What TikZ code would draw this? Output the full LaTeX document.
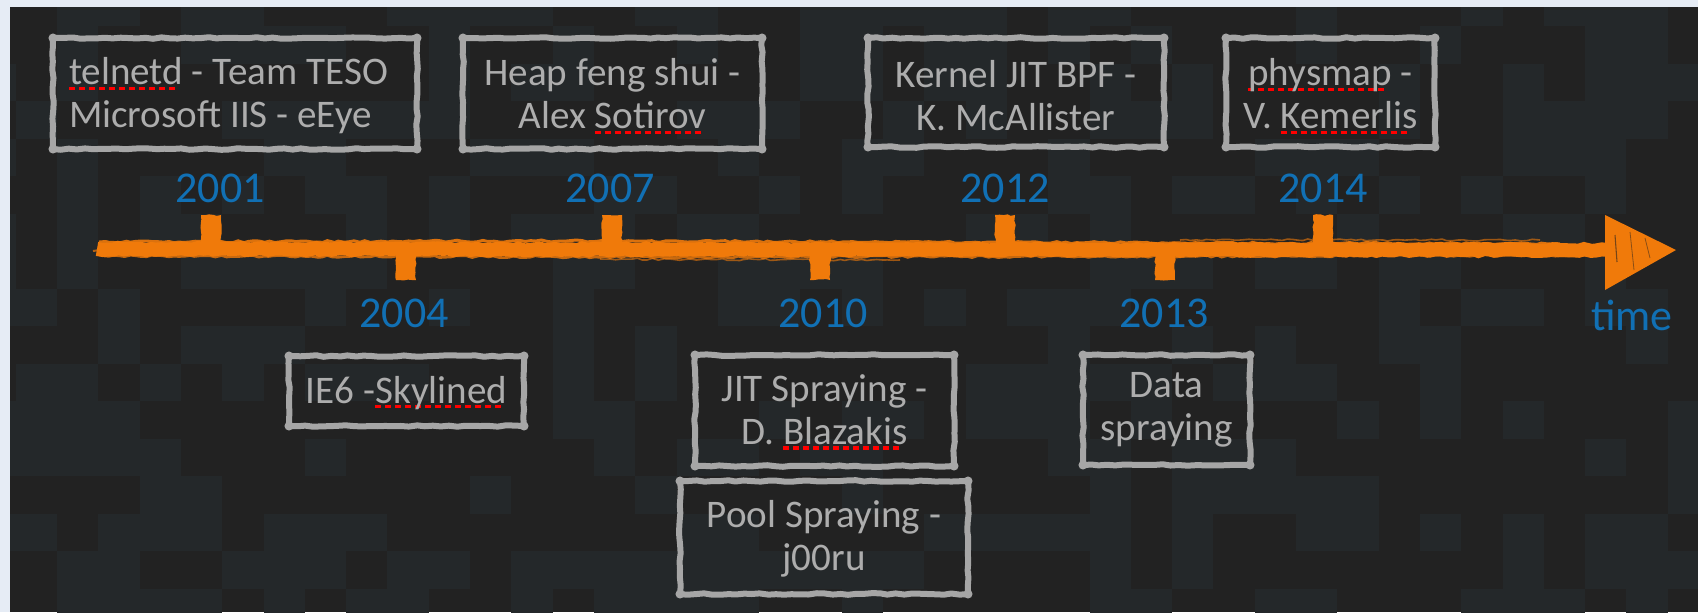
\documentclass[tikz,border=0pt]{standalone}
\usepackage{fontspec}
\setmainfont{Carlito}
\usetikzlibrary{decorations.pathmorphing}
\definecolor{pagebg}{HTML}{E6ECF5}
\definecolor{darkbg}{HTML}{222222}
\definecolor{tilebg}{HTML}{24282A}
\definecolor{boxgray}{HTML}{A6A6A6}
\definecolor{txtgray}{HTML}{ADADAD}
\definecolor{yearblue}{HTML}{1170B4}
\definecolor{axisorange}{HTML}{F07A0A}
\definecolor{spell}{HTML}{FF0000}
\newbox\sqbox
\newcommand\sq[1]{\setbox\sqbox=\hbox{#1}\rlap{\color{spell}\hbox to \wd\sqbox{\leaders\hbox{\vrule height -1.6pt depth 4pt width 4.5pt\hskip3pt}\hfil}}\box\sqbox}
\tikzset{
 sketch/.style={draw=boxgray, line width=4.5pt, line join=round, decorate, decoration={random steps, segment length=6pt, amplitude=0.6pt}},
 boxtext/.style={text=txtgray, font=\fontsize{29.3pt}{32.25pt}\selectfont, align=center, inner sep=0pt},
 year/.style={text=yearblue, font=\fontsize{33pt}{38pt}\selectfont, inner sep=0pt, anchor=base},
 brush/.style={draw=axisorange, decorate, decoration={random steps, segment length=4pt, amplitude=0.8pt}},
 tickbar/.style={fill=axisorange, decorate, decoration={random steps, segment length=3pt, amplitude=0.7pt}},
}
\newcommand\skbox[4]{%
  \draw[sketch] (#1+3,#2+3) rectangle (#3-3,#4-3);
  \foreach \cx/\cy in {#1+3/#2+3, #3-3/#2+3, #1+3/#4-3, #3-3/#4-3} \fill[boxgray] (\cx,\cy) circle (3.4pt);
}
\begin{document}
\begin{tikzpicture}[x=0.75pt, y=-0.75pt]
\fill[pagebg] (0,0) rectangle (1698,612);
\fill[darkbg] (10,7) rectangle (1698,612);
\useasboundingbox (0,0) rectangle (1698,612);
% checkered background
\begin{scope}
\clip (10,7) rectangle (1698,612);
\pgfmathsetseed{11}
\foreach \i in {0,...,41}{\foreach \j in {0,...,16}{
  \pgfmathsetmacro\rr{rnd}
  \ifdim\rr pt<0.42pt \fill[tilebg] ({15.7+(\i-1)*41.3},{26+(\j-1)*37.5}) rectangle ++(41.3,37.5);\fi
}}
\end{scope}
\pgfmathsetseed{5}
% boxes
\skbox{50}{35}{420}{152}
\skbox{460}{35}{765}{152}
\skbox{865}{35}{1167}{150}
\skbox{1223}{35}{1438}{150}
\skbox{286}{353}{527}{429}
\skbox{692}{352}{957}{469}
\skbox{677}{478}{971}{597}
\skbox{1080}{352}{1253}{468}
% box texts
\node[boxtext, align=left] (t1) at (228.5,96) {\sq{telnetd} - Team TESO\\Microsoft IIS - eEye};
\node[boxtext] (t2) at (612.5,96) {Heap feng shui -\\Alex \sq{Sotirov}};
\node[boxtext] (t3) at (1016,96) {Kernel JIT BPF -\\K. McAllister};
\node[boxtext] (t4) at (1330.5,96) {\sq{physmap} -\\V. \sq{Kemerlis}};
\node[boxtext, anchor=base] (t5) at (406.5,403) {IE6 -\sq{Skylined}};
\node[boxtext] (t6) at (824.5,412) {JIT Spraying -\\D. \sq{Blazakis}};
\node[boxtext] (t7) at (824,539) {Pool Spraying -\\j00ru};
\node[boxtext] (t8) at (1166.5,410) {Data\\spraying};
% axis
\coordinate (axL) at (97,249);
\coordinate (axR) at (1608,250);
\draw[brush, line width=10.5pt] (axL) -- (axR);
\draw[brush, line width=2.2pt, opacity=0.9] (99,242) -- (560,241) -- (1200,243) -- (1560,244);
\draw[brush, line width=2pt, opacity=0.8] (104,256) -- (700,257) -- (1300,256) -- (1600,255);
\draw[brush, line width=1.5pt, opacity=0.7] (93,251) -- (400,252);
\draw[brush, line width=1.2pt, opacity=0.6] (600,259) -- (900,260);
\draw[brush, line width=1.2pt, opacity=0.6] (1180,240) -- (1540,240);
% arrow head
\coordinate (tip) at (1676,250);
\fill[axisorange] (1605,215) -- (tip) -- (1605,290) -- cycle;
\draw[darkbg, line width=0.8pt, opacity=0.6] (1615,235) -- (1617,262);
\draw[darkbg, line width=0.6pt, opacity=0.5] (1630,232) -- (1634,270);
\draw[darkbg, line width=0.6pt, opacity=0.5] (1645,238) -- (1650,258);
% ticks
\foreach \x in {211,612,1005,1323} \path[tickbar] (\x-10,215) rectangle (\x+10,249);
\foreach \x in {406,820,1165} \path[tickbar] (\x-10,249) rectangle (\x+10,280);
% years
\node[year] (y2001) at (220,202) {2001};
\node[year] (y2007) at (610,202) {2007};
\node[year] (y2012) at (1005,202) {2012};
\node[year] (y2014) at (1323,202) {2014};
\node[year] (y2004) at (404,327) {2004};
\node[year] (y2010) at (823,327) {2010};
\node[year] (y2013) at (1164,327) {2013};
\node[year] (ytime) at (1632,330) {time};
\end{tikzpicture}
\end{document}
